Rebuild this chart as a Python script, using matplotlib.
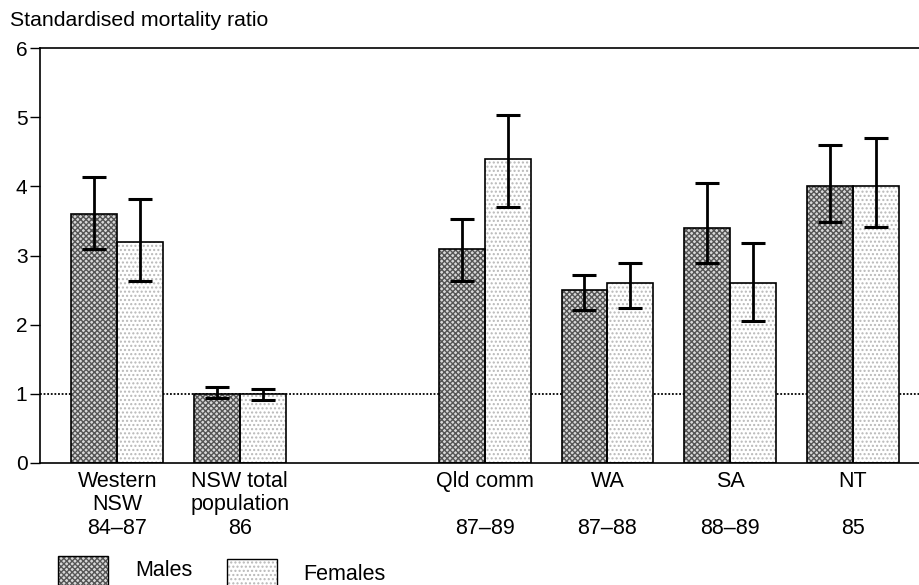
import numpy as np
from matplotlib import pyplot as plt
from matplotlib.patches import Rectangle

plt.rcParams['font.family'] = ['Liberation Sans', 'DejaVu Sans']

groups = ['Western\nNSW', 'NSW total\npopulation', 'Qld comm', 'WA', 'SA', 'NT']
years = ['84\u201387', '86', '87\u201389', '87\u201388', '88\u201389', '85']
positions = [0, 1, 3, 4, 5, 6]

males = [3.6, 1.0, 3.1, 2.5, 3.4, 4.0]
males_lo = [3.1, 0.94, 2.63, 2.21, 2.89, 3.48]
males_hi = [4.13, 1.1, 3.53, 2.72, 4.05, 4.6]

females = [3.2, 1.0, 4.4, 2.6, 2.6, 4.0]
females_lo = [2.63, 0.91, 3.7, 2.24, 2.05, 3.41]
females_hi = [3.81, 1.07, 5.03, 2.89, 3.18, 4.7]

fig = plt.figure(figsize=(9.2, 5.85), dpi=100)
ax = fig.add_axes([40 / 920, 1 - 463 / 585, 880 / 920, 415 / 585])

x = np.array(positions, dtype=float)
w = 0.375

# linia odniesienia SMR = 1
ax.axhline(1, color='black', lw=1.3, ls=(0, (1, 1)), zorder=1)

def slupki(xs, vals, lo, hi, face, hatch, hcol):
    ax.bar(xs, vals, w, color=face, hatch=hatch, edgecolor=hcol, lw=0, zorder=2)
    ax.bar(xs, vals, w, color='none', edgecolor='black', lw=1.2, zorder=3)
    err = [np.array(vals) - np.array(lo), np.array(hi) - np.array(vals)]
    ax.errorbar(xs, vals, yerr=err, fmt='none', ecolor='black', elinewidth=2.0,
                capsize=8.3, capthick=2.2, zorder=4)

slupki(x - w / 2, males, males_lo, males_hi, '#d8d8d8', 'xxxxxx', '#555555')
slupki(x + w / 2, females, females_lo, females_hi, 'white', '....', '#b8b8b8')

ax.set_xlim(-0.63, 6.55)
ax.set_ylim(0, 6)
ax.set_yticks(range(7))
ax.tick_params(axis='y', direction='out', length=7, width=1, labelsize=15, pad=2)
ax.set_xticks(x)
ax.set_xticklabels(groups, fontsize=15.5, linespacing=1.12)
ax.tick_params(axis='x', length=0, pad=6)
ax.spines['right'].set_visible(False)
for s in ['left', 'bottom', 'top']:
    ax.spines[s].set_linewidth(1.2)

# lata: x w danych, y w ukladzie figury
import matplotlib.transforms as mtransforms
trans = mtransforms.blended_transform_factory(ax.transData, fig.transFigure)
for xi, yr in zip(x, years):
    ax.text(xi, 1 - 529 / 585, yr, transform=trans, ha='center',
            va='center', fontsize=15.5)

fig.text(10 / 920, 1 - 21 / 585, 'Standardised mortality ratio', fontsize=15.3, va='center')

# legenda
def kwadrat(x0, y0, x1, y1, face, hatch, hcol):
    r = ((x0 / 920, 1 - y1 / 585), (x1 - x0) / 920, (y1 - y0) / 585)
    fig.add_artist(Rectangle(*r, transform=fig.transFigure, facecolor=face,
                             hatch=hatch, edgecolor=hcol, lw=0))
    fig.add_artist(Rectangle(*r, transform=fig.transFigure, facecolor='none',
                             edgecolor='black', lw=1))

kwadrat(58, 556, 108, 592, '#d8d8d8', 'xxxxxx', '#555555')
kwadrat(227, 559, 277, 595, 'white', '....', '#b8b8b8')
fig.text(135 / 920, 1 - 571 / 585, 'Males', fontsize=15.5, va='center')
fig.text(303 / 920, 1 - 575 / 585, 'Females', fontsize=15.5, va='center')

plt.savefig('out.png')
